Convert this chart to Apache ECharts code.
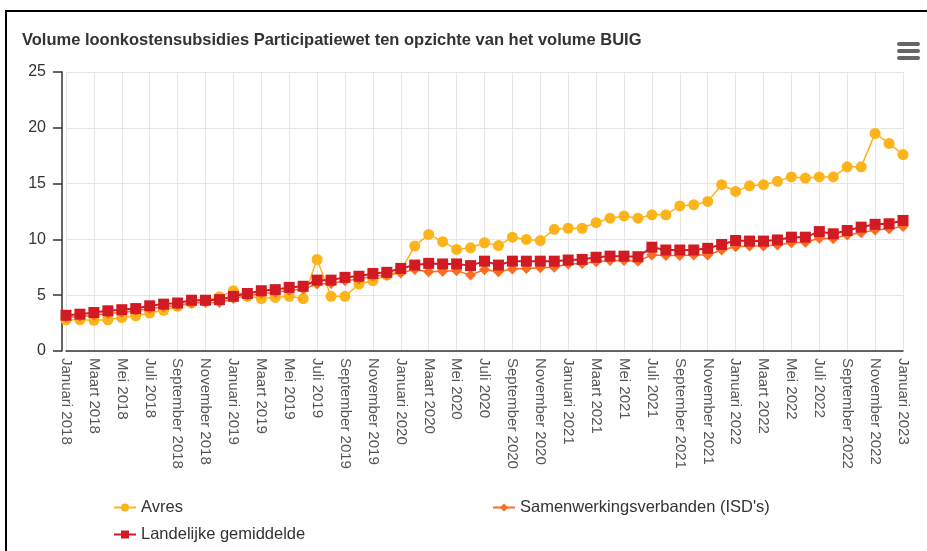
<!DOCTYPE html>
<html>
<head>
<meta charset="utf-8">
<script src="https://cdn.jsdelivr.net/npm/echarts@6/dist/echarts.min.js"></script>
<style>
html,body{margin:0;padding:0;background:#fff;}
#chart{width:927px;height:551px;}
</style>
</head>
<body>
<div id="chart"></div>
<script>
const monthNames = ['Januari','Februari','Maart','April','Mei','Juni','Juli','Augustus','September','Oktober','November','December'];
const categories = [];
for (let y = 2018; y <= 2023; y++) {
  for (let m = 0; m < 12; m++) {
    if (y === 2023 && m > 0) break;
    categories.push(monthNames[m] + ' ' + y);
  }
}
const yTicks = [0, 5, 10, 15, 20, 25];

const avres = [
  2.8, 2.8, 2.75, 2.8, 3.0, 3.15, 3.4, 3.65, 4.0, 4.3, 4.5, 4.85,
  5.4, 4.9, 4.7, 4.8, 4.9, 4.7, 8.2, 4.9, 4.9, 6.0, 6.3, 6.8,
  7.2, 9.4, 10.45, 9.8, 9.1, 9.25, 9.7, 9.45, 10.2, 10.0, 9.9, 10.9,
  11.0, 11.0, 11.5, 11.9, 12.1, 11.9, 12.2, 12.2, 13.0, 13.1, 13.4, 14.9,
  14.3, 14.8, 14.9, 15.2, 15.6, 15.5, 15.6, 15.6, 16.5, 16.5, 19.5, 18.6,
  17.6
];
const samenwerking = [
  3.0, 3.1, 3.2, 3.35, 3.45, 3.6, 3.8, 3.95, 4.1, 4.3, 4.35, 4.35,
  4.7, 4.95, 5.15, 5.25, 5.45, 5.55, 6.0, 6.05, 6.3, 6.45, 6.7, 6.8,
  7.0, 7.3, 7.1, 7.15, 7.2, 6.8, 7.3, 7.1, 7.35, 7.4, 7.45, 7.5,
  7.8, 7.85, 8.0, 8.1, 8.1, 8.05, 8.6, 8.55, 8.55, 8.6, 8.6, 9.05,
  9.35, 9.4, 9.4, 9.5, 9.7, 9.75, 10.1, 10.05, 10.4, 10.6, 10.85, 10.95,
  11.15
];
const landelijk = [
  3.2, 3.3, 3.45, 3.6, 3.7, 3.8, 4.05, 4.2, 4.3, 4.55, 4.55, 4.6,
  4.9, 5.15, 5.4, 5.5, 5.7, 5.8, 6.35, 6.35, 6.6, 6.7, 6.95, 7.05,
  7.4, 7.7, 7.85, 7.8, 7.8, 7.65, 8.05, 7.7, 8.05, 8.05, 8.05, 8.05,
  8.15, 8.2, 8.4, 8.5, 8.5, 8.45, 9.3, 9.05, 9.05, 9.05, 9.2, 9.55,
  9.9, 9.85, 9.85, 9.95, 10.2, 10.2, 10.7, 10.5, 10.8, 11.1, 11.35, 11.4,
  11.7
];
const seriesNames = ['Avres', "Samenwerkingsverbanden (ISD's)", 'Landelijke gemiddelde'];
const colors = ['#FDB41A', '#FF6B1F', '#D11A22'];

const chart = echarts.init(document.getElementById('chart'), null, {renderer: 'canvas'});
const font = 'Arial, "Liberation Sans", sans-serif';
const legendCommon = {
  orient: 'horizontal', itemWidth: 22, itemHeight: 10, itemGap: 6,
  textStyle: {fontFamily: font, fontSize: 16.5, color: '#333'}
};
chart.setOption({
  animation: false,
  textStyle: {fontFamily: font},
  title: {
    text: 'Volume loonkostensubsidies Participatiewet ten opzichte van het volume BUIG',
    left: 17, top: 27,
    textStyle: {fontFamily: font, fontSize: 16.5, fontWeight: 'bold', color: '#333'}
  },
  graphic: [
    {type: 'rect', silent: true, shape: {x: 6, y: 11, width: 1000, height: 1000},
     style: {fill: 'none', stroke: '#000', lineWidth: 2}},
    {type: 'rect', shape: {x: 897, y: 42, width: 23, height: 4, r: 2}, style: {fill: '#666'}},
    {type: 'rect', shape: {x: 897, y: 49, width: 23, height: 4, r: 2}, style: {fill: '#666'}},
    {type: 'rect', shape: {x: 897, y: 56, width: 23, height: 4, r: 2}, style: {fill: '#666'}}
  ],
  legend: [
    Object.assign({data: [seriesNames[0]], left: 108, top: 494}, legendCommon),
    Object.assign({data: [seriesNames[1]], left: 487, top: 494}, legendCommon),
    Object.assign({data: [seriesNames[2]], left: 108, top: 521}, legendCommon)
  ],
  grid: {left: 66, right: 24, top: 72, bottom: 200, containLabel: false},
  xAxis: {
    type: 'category',
    data: categories,
    boundaryGap: false,
    axisLine: {show: true, lineStyle: {color: '#333', width: 1.5}},
    axisTick: {show: false},
    axisLabel: {interval: 1, rotate: -90, color: '#555', fontSize: 15, fontFamily: font, margin: 7},
    splitLine: {show: true, interval: 1, lineStyle: {color: '#e6e6e6', width: 1}}
  },
  yAxis: {
    type: 'value',
    min: yTicks[0], max: yTicks[yTicks.length - 1], interval: 5,
    offset: 4,
    axisLine: {show: true, lineStyle: {color: '#333', width: 1.5}},
    axisTick: {show: true, length: 9, lineStyle: {color: '#333', width: 1.5}},
    axisLabel: {color: '#333', fontSize: 16, fontFamily: font, margin: 16},
    splitLine: {show: true, lineStyle: {color: '#e6e6e6', width: 1}}
  },
  series: [
    {name: seriesNames[0], type: 'line', data: avres, symbol: 'circle', symbolSize: 11, showAllSymbol: true,
     itemStyle: {color: colors[0]}, lineStyle: {color: colors[0], width: 1.5}, z: 2},
    {name: seriesNames[1], type: 'line', data: samenwerking, symbol: 'diamond', symbolSize: 11, showAllSymbol: true,
     itemStyle: {color: colors[1]}, lineStyle: {color: colors[1], width: 1.5}, z: 3},
    {name: seriesNames[2], type: 'line', data: landelijk, symbol: 'rect', symbolSize: 11, showAllSymbol: true,
     itemStyle: {color: colors[2]}, lineStyle: {color: colors[2], width: 2}, z: 4}
  ]
});
</script>
</body>
</html>
